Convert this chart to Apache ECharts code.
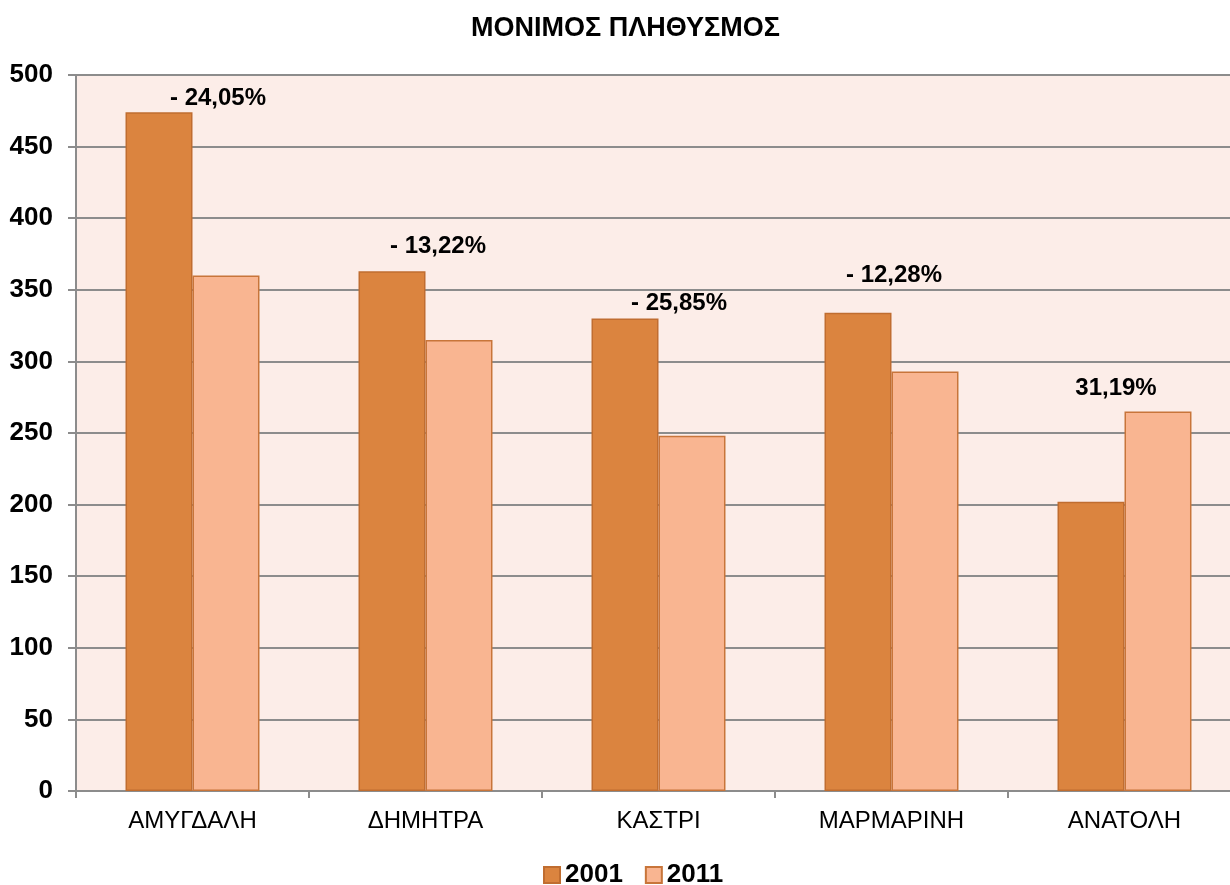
<!DOCTYPE html>
<html>
<head>
<meta charset="utf-8">
<script src="https://cdn.jsdelivr.net/npm/echarts@6/dist/echarts.min.js"></script>
<style>
    html, body { margin: 0; padding: 0; background: #fff; overflow: hidden; }
    /* the plot runs a little past the right edge of the picture */
    #chart { width: 1241px; height: 885px; }
</style>
</head>
<body>
<div id="chart"></div>
<script>
// data
const villages = ['ΑΜΥΓΔΑΛΗ', 'ΔΗΜΗΤΡΑ', 'ΚΑΣΤΡΙ', 'ΜΑΡΜΑΡΙΝΗ', 'ΑΝΑΤΟΛΗ'];
const pop2001 = [474, 363, 330, 334, 202];
const pop2011 = [360, 315, 248, 293, 265];
const changeLabels = ['- 24,05%', '- 13,22%', '- 25,85%', '- 12,28%', '31,19%'];

const font = '"Liberation Sans", Arial, sans-serif';

// where each change label sits, relative to the taller bar's top
const labelOffsets = [[59, 3], [46, -8], [54, 2], [36, -20], [-42, -6]];

function withLabels(values, other) {
    return values.map((v, i) => {
        if (v < other[i]) return v;
        return {
            value: v,
            label: {
                show: true,
                position: 'top',
                formatter: changeLabels[i],
                offset: labelOffsets[i],
                color: '#000',
                fontFamily: font,
                fontWeight: 'bold',
                fontSize: 24
            }
        };
    });
}

const chart = echarts.init(document.getElementById('chart'));
const option = {
    animation: false,
    textStyle: { fontFamily: font },
    title: {
        text: 'ΜΟΝΙΜΟΣ ΠΛΗΘΥΣΜΟΣ',
        left: 466,
        top: 10,
        textStyle: { fontFamily: font, fontWeight: 'bold', fontSize: 27, color: '#000' }
    },
    legend: {
        top: 857,
        left: 538,
        itemWidth: 16,
        itemHeight: 16,
        itemGap: 22,
        icon: 'rect',
        textStyle: { fontFamily: font, fontWeight: 'bold', fontSize: 26, color: '#000' },
        data: ['2001', '2011']
    },
    grid: {
        left: 76,
        right: 0,
        top: 75,
        bottom: 94,
        show: true,
        backgroundColor: '#fcede8',
        borderWidth: 0
    },
    xAxis: {
        type: 'category',
        data: villages,
        axisLine: { lineStyle: { color: '#8c8c8c', width: 2 } },
        axisTick: { show: true, length: 7, lineStyle: { color: '#8c8c8c', width: 2 } },
        axisLabel: { color: '#000', fontFamily: font, fontSize: 24, margin: 18 }
    },
    yAxis: {
        type: 'value',
        min: 0,
        max: 500,
        interval: 50,
        axisLine: { show: true, lineStyle: { color: '#8c8c8c', width: 2 } },
        axisTick: { show: true, length: 8, lineStyle: { color: '#8c8c8c', width: 2 } },
        axisLabel: { color: '#000', fontFamily: font, fontWeight: 'bold', fontSize: 26, margin: 23 },
        splitLine: { lineStyle: { color: '#8c8c8c', width: 2 } }
    },
    series: [
        {
            name: '2001',
            type: 'bar',
            barGap: 0,
            barCategoryGap: '42.5%',
            itemStyle: { color: '#db843f', borderColor: '#c06d30', borderWidth: 1.5 },
            data: withLabels(pop2001, pop2011)
        },
        {
            name: '2011',
            type: 'bar',
            itemStyle: { color: '#f9b591', borderColor: '#c8753a', borderWidth: 1.5 },
            data: withLabels(pop2011, pop2001)
        }
    ]
};
chart.setOption(option);
</script>
</body>
</html>
